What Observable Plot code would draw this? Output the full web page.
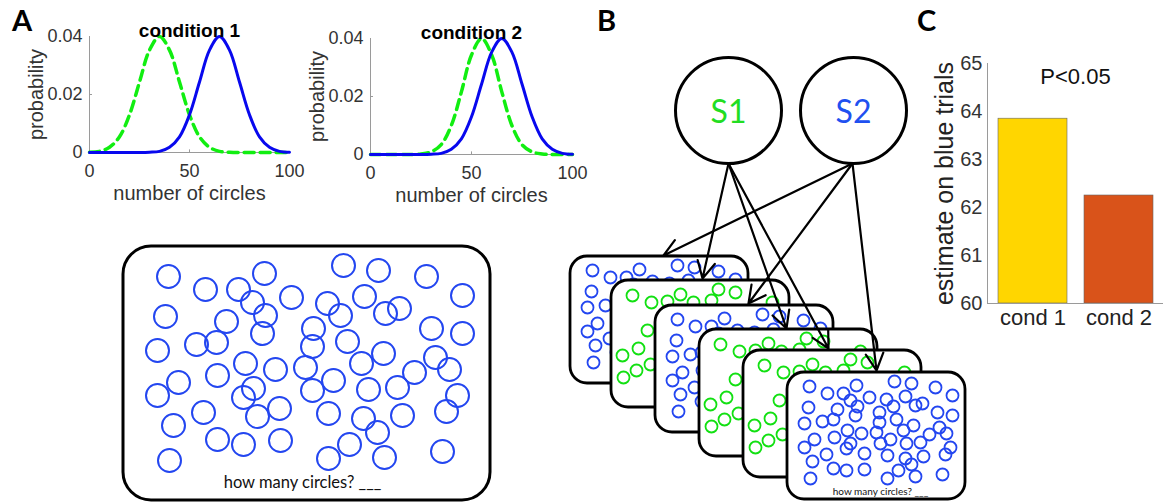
<!DOCTYPE html>
<html><head><meta charset="utf-8">
<script src="https://cdn.jsdelivr.net/npm/d3@7"></script>
<script src="https://cdn.jsdelivr.net/npm/@observablehq/plot@0.6"></script>
<style>
body{margin:0;background:#fff;}
#fig{position:relative;width:1165px;height:504px;overflow:hidden;background:#fff;}
#fig > svg{position:absolute;}
.letter{position:absolute;font-family:Lato,"Liberation Sans",sans-serif;font-weight:bold;font-size:29px;line-height:1;color:#000;}
</style></head><body>
<div id="fig"></div>
<script>
// ---------- Panel A: distributions ----------
const numbers     = [0,5,10,15,20,25,30,35,40,45,50,55,60,65,70,75,80,85,90,95,100];
const cond1Blue   = [0,0,0,0,0,0,0.0001,0.0004,0.0018,0.0054,0.013,0.0243,0.0353,0.04,0.0353,0.0243,0.013,0.0054,0.0018,0.0004,0.0001];
const cond1Green  = [0.0001,0.0004,0.0018,0.0054,0.013,0.0243,0.0353,0.04,0.0353,0.0243,0.013,0.0054,0.0018,0.0004,0.0001,0,0,0,0,0,0];
const cond2Blue   = [0,0,0,0,0,0,0.0001,0.0004,0.0018,0.0054,0.013,0.0243,0.0353,0.04,0.0353,0.0243,0.013,0.0054,0.0018,0.0004,0.0001];
const cond2Green  = [0,0,0,0,0,0.0002,0.0009,0.0034,0.01,0.0216,0.0343,0.04,0.0343,0.0216,0.01,0.0034,0.0009,0.0002,0,0,0];
const densityXTicks = [0,50,100];
const densityYTicks = [0,0.02,0.04];

// ---------- Panel C: bar chart ----------
const conditions = ["cond 1","cond 2"];
const estimates  = [63.85, 62.25];
const estimateDomain = [60, 65];
const estimateTicks  = [60,61,62,63,64,65];

// ---------- Stimulus display (panel A, bottom) ----------
const bigBoxes = [{x1:123, y1:246, x2:490, y2:500}];
const bigCircles = [[168,276],[205,289],[238,289],[264,273],[343,265],[378,270],[426,276],[462,295],[165,316],[252,302],[265,315],[226,321],[291,297],[327,303],[364,296],[340,315],[385,313],[399,308],[431,328],[462,333],[157,350],[196,344],[216,342],[262,333],[313,328],[312,346],[347,341],[383,353],[435,357],[449,369],[245,363],[275,369],[305,367],[361,363],[414,372],[178,382],[217,375],[157,395],[253,388],[243,397],[312,390],[333,380],[368,389],[397,387],[457,395],[203,412],[257,416],[279,408],[328,413],[363,418],[402,415],[446,411],[173,425],[217,439],[243,444],[280,440],[349,444],[377,432],[328,458],[384,457],[442,451],[169,460]];
const bigPrompt = [{text:"how many circles? ___", x:302, y:482}];

// ---------- Panel B: generative model ----------
const nodes = [{label:"S1", x:728, y:110},{label:"S2", x:853, y:110}];
const cards = [
  {x:570, y:256, kind:"blue"},
  {x:611, y:280, kind:"green"},
  {x:655, y:305, kind:"blue"},
  {x:699, y:329, kind:"green"},
  {x:743, y:350, kind:"green"},
  {x:787, y:372, kind:"blue"}
];
const blueLayout = [[22,14],[40,21],[56,21],[69,13],[82,25],[107,9],[124,11],[148,15],[165,23],
  [21,35],[50,37],[63,28],[70,34],[68,43],[99,27],[106,34],[118,24],[128,33],[135,31],[150,40],[165,43],
  [17,51],[35,49],[46,47],[92,40],[92,50],[109,47],[126,53],[152,55],
  [27,67],[47,65],[60,58],[74,61],[89,60],[103,67],[116,58],[142,62],[159,61],
  [17,75],[39,82],[59,76],[63,71],[77,81],[93,71],[100,83],[119,71],[133,70],[163,75],
  [25,89],[46,96],[59,98],[77,97],[118,86],[124,92],[136,84],[158,82],
  [23,106],[100,106],[111,98],[128,104],[155,102]];
const greenLayout = [[21,15],[40,22],[56,21],[69,14],[82,22],[100,20],[107,9],[124,12],[161,22],
  [36,50],[27,68],[11,75],[39,84],[25,90],[12,97]];
const cardPrompt = [{text:"how many circles? ___", dx:93, dy:119}];
const edges = [
  {x1:852, y1:163, x2:663, y2:255},
  {x1:728, y1:163, x2:702, y2:278},
  {x1:852, y1:163, x2:748, y2:303},
  {x1:728, y1:163, x2:786, y2:328},
  {x1:728, y1:163, x2:828, y2:348},
  {x1:852, y1:163, x2:876, y2:370}
];

// ---------- styles ----------
const axisFont = '"Liberation Sans", Arial, Helvetica, sans-serif';
const diagFont = 'Lato, "Open Sans", sans-serif';
const curveBlue = "#0808ee", curveGreen = "#11ee11";
const dotColors = {blue:"#2346f0", green:"#12e012"};
const nodeColors = {S1:"#22dd22", S2:"#2050f0"};
const barColors = ["#FFD600", "#D9531A"];
const cardW = 178, cardH = 127;

const fig = document.getElementById("fig");

function densityPlot(title, blue, green, m) {
  const rows = vals => numbers.map((n, i) => ({n, p: vals[i]}));
  const svg = Plot.plot({
    width: m.width, height: 210,
    marginLeft: m.left, marginRight: m.right, marginTop: m.top, marginBottom: m.bottom,
    style: {fontFamily: axisFont, fontSize: "18px", color: "#333", background: "transparent", overflow: "visible"},
    x: {domain: [0, 100]},
    y: {domain: [0, 0.04]},
    marks: [
      Plot.ruleX([0], {stroke: "#9a9a9a", strokeWidth: 1}),
      Plot.ruleY([0], {stroke: "#9a9a9a", strokeWidth: 1}),
      Plot.ruleX(densityXTicks.slice(1, -1), {y1: densityYTicks[0], y2: 0.0009, stroke: "#9a9a9a"}),
      Plot.ruleY(densityYTicks.slice(1, -1), {x1: densityXTicks[0], x2: 1.5, stroke: "#9a9a9a"}),
      Plot.axisX({ticks: densityXTicks, tickSize: 0, tickPadding: 12, label: null, fontSize: 18, fill: "#333"}),
      Plot.axisY({ticks: densityYTicks, tickSize: 0, tickPadding: 7, tickFormat: d3.format("~g"), label: null, fontSize: 18, fill: "#333"}),
      Plot.text(["number of circles"], {frameAnchor: "bottom", dy: 33, lineAnchor: "top", textAnchor: "middle", fontSize: 20, fill: "#333"}),
      Plot.text(["probability"], {frameAnchor: "left", dx: -61, rotate: -90, lineAnchor: "top", textAnchor: "middle", fontSize: 20, fill: "#333"}),
      Plot.line(rows(green), {x: "n", y: "p", stroke: curveGreen, strokeWidth: 3.5, strokeDasharray: "10,6", curve: "catmull-rom"}),
      Plot.line(rows(blue), {x: "n", y: "p", stroke: curveBlue, strokeWidth: 3, curve: "catmull-rom"}),
      Plot.text([title], {frameAnchor: "top", dy: -13, fontWeight: "bold", fontSize: 19, fill: "#000"})
    ]
  });
  svg.style.left = m.x + "px"; svg.style.top = "0px";
  return svg;
}

// diagram layer
const diagram = Plot.plot({
  width: 1165, height: 504, margin: 0,
  x: {domain: [0, 1165], axis: null},
  y: {domain: [0, 504], reverse: true, axis: null},
  style: {background: "transparent", overflow: "visible", fontFamily: diagFont},
  marks: [
    Plot.rect(bigBoxes, {x1: "x1", y1: "y1", x2: "x2", y2: "y2", rx: 28, ry: 28, fill: "white", stroke: "black", strokeWidth: 3}),
    Plot.dot(bigCircles, {x: d => d[0], y: d => d[1], r: 11.5, stroke: dotColors.blue, strokeWidth: 2, fill: "none"}),
    Plot.text(bigPrompt, {x: "x", y: "y", text: "text", fontSize: 16.5, fill: "#111"}),
    ...cards.flatMap(c => [
      Plot.rect([c], {x1: d => d.x, y1: d => d.y, x2: d => d.x + cardW, y2: d => d.y + cardH, rx: 17, ry: 17, fill: "white", stroke: "black", strokeWidth: 2.8}),
      Plot.dot(c.kind === "blue" ? blueLayout : greenLayout, {x: p => c.x + p[0], y: p => c.y + p[1], r: 6, stroke: dotColors[c.kind], strokeWidth: 1.8, fill: "none"})
    ]),
    Plot.text(cardPrompt, {x: d => cards[cards.length - 1].x + d.dx, y: d => cards[cards.length - 1].y + d.dy, text: "text", fontSize: 10, fill: "#111"}),
    Plot.dot(nodes, {x: "x", y: "y", r: 53, fill: "white", stroke: "black", strokeWidth: 3}),
    Plot.text(nodes, {x: "x", y: "y", text: "label", fill: d => nodeColors[d.label], fontSize: 32, dy: 2}),
    Plot.arrow(edges, {x1: "x1", y1: "y1", x2: "x2", y2: "y2", stroke: "black", strokeWidth: 2.2, headLength: 13, headAngle: 55})
  ]
});
diagram.style.left = "0px"; diagram.style.top = "0px";
fig.appendChild(diagram);

fig.appendChild(densityPlot("condition 1", cond1Blue, cond1Green, {x: 0, width: 300, left: 89, right: 11, top: 36, bottom: 58}));
fig.appendChild(densityPlot("condition 2", cond2Blue, cond2Green, {x: 290, width: 290, left: 80, right: 8, top: 38, bottom: 56}));

// panel C
const barRows = conditions.map((c, i) => ({c, v: estimates[i]}));
const barSvg = Plot.plot({
  width: 265, height: 340, marginLeft: 87, marginRight: 2, marginTop: 63, marginBottom: 37,
  style: {fontFamily: axisFont, fontSize: "20px", color: "#333", background: "transparent", overflow: "visible"},
  x: {domain: conditions, paddingInner: 0.2, paddingOuter: 0.12},
  y: {domain: estimateDomain},
  color: {domain: conditions, range: barColors},
  marks: [
    Plot.barY(barRows, {x: "c", y1: estimateDomain[0], y2: "v", fill: "c", stroke: "#666", strokeWidth: 0.6}),
    Plot.frame({anchor: "left", stroke: "#9a9a9a"}),
    Plot.ruleY([estimateDomain[0]], {stroke: "#9a9a9a"}),
    Plot.axisY({ticks: estimateTicks, tickSize: 0, tickPadding: 5, tickFormat: d3.format("d"), label: null, fontSize: 20, fill: "#333"}),
    Plot.axisX({tickSize: 0, tickPadding: 6, label: null, fontSize: 22, fill: "#222"}),
    Plot.text(["estimate on blue trials"], {frameAnchor: "left", dx: -52, rotate: -90, lineAnchor: "top", textAnchor: "middle", fontSize: 25, fill: "#222"}),
    Plot.text(["P<0.05"], {frameAnchor: "top", dy: 5, lineAnchor: "top", fontSize: 22, fill: "#111"})
  ]
});
barSvg.style.left = "900px"; barSvg.style.top = "0px";
fig.appendChild(barSvg);

// panel letters
[["A", 12, 5], ["B", 597, 5], ["C", 917, 5]].forEach(([t, x, y]) => {
  const d = document.createElement("div");
  d.className = "letter"; d.textContent = t;
  d.style.left = x + "px"; d.style.top = y + "px";
  fig.appendChild(d);
});
</script>
</body></html>
